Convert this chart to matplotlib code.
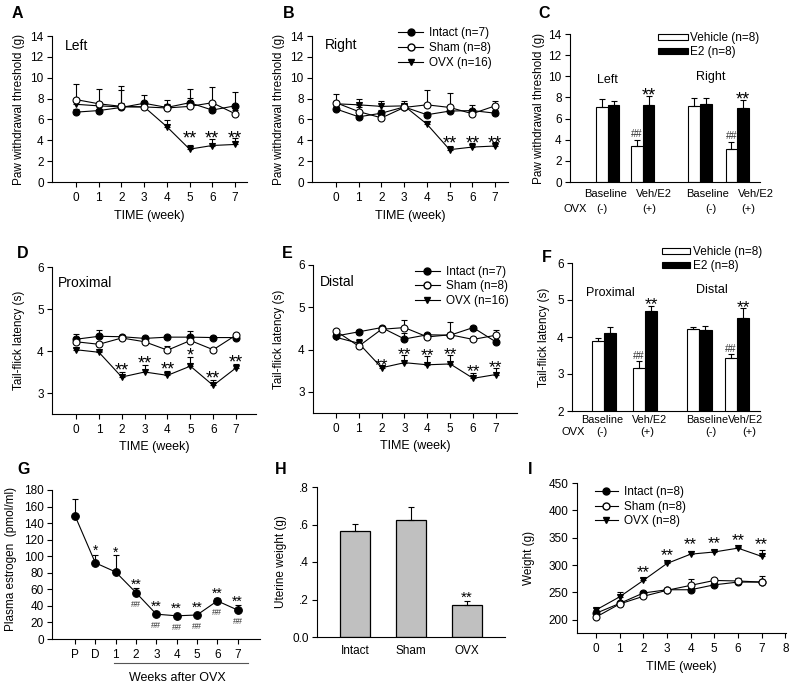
import numpy as np
import matplotlib
matplotlib.use('Agg')
import matplotlib.pyplot as plt
from matplotlib.lines import Line2D
from matplotlib.patches import Patch
from matplotlib.transforms import blended_transform_factory

plt.rcParams['font.family'] = ['Liberation Sans', 'DejaVu Sans']
plt.rcParams['font.size'] = 8.5
plt.rcParams['axes.linewidth'] = 0.8

# ---------------- data ----------------
weeks = [0, 1, 2, 3, 4, 5, 6, 7]
names_pain = ['Intact (n=7)', 'Sham (n=8)', 'OVX (n=16)']
names_weight = ['Intact (n=8)', 'Sham (n=8)', 'OVX (n=8)']
names_treat = ['Vehicle (n=8)', 'E2 (n=8)']

# A: paw withdrawal threshold (g), left
a_intact = [6.70, 6.85, 7.15, 7.55, 7.15, 7.60, 6.90, 7.30]
a_intact_err = [0.30, 0.30, 1.65, 0.80, 0.30, 1.30, 0.30, 1.35]
a_sham = [7.90, 7.50, 7.25, 7.20, 7.10, 7.25, 7.60, 6.55]
a_sham_err = [1.45, 1.45, 2.00, 0.50, 0.80, 0.85, 1.50, 0.40]
a_ovx = [7.45, 7.30, 7.20, 7.20, 5.30, 3.15, 3.50, 3.60]
a_ovx_err = [0.40, 0.30, 0.40, 0.40, 0.65, 0.40, 0.60, 0.65]
a_sig = ['', '', '', '', '', '**', '**', '**']

# B: paw withdrawal threshold (g), right
b_intact = [7.00, 6.25, 6.60, 7.20, 6.45, 6.80, 6.85, 6.60]
b_intact_err = [0.30, 0.30, 0.30, 0.30, 0.30, 0.30, 0.55, 0.30]
b_sham = [7.60, 6.75, 6.15, 7.15, 7.40, 7.15, 6.55, 7.30]
b_sham_err = [0.85, 0.40, 0.30, 0.30, 1.40, 1.35, 0.30, 0.45]
b_ovx = [7.50, 7.40, 7.25, 7.30, 5.55, 3.10, 3.35, 3.45]
b_ovx_err = [0.30, 0.60, 0.50, 0.50, 0.30, 0.35, 0.35, 0.40]
b_sig = ['', '', '', '', '', '**', '**', '**']

# C: paw withdrawal threshold, vehicle vs E2
c_groups = ['Baseline', 'Veh/E2', 'Baseline', 'Veh/E2']
c_ovx = ['(-)', '(+)', '(-)', '(+)']
c_sides = ['Left', 'Right']
c_vehicle = [7.10, 3.40, 7.20, 3.15]
c_vehicle_err = [0.75, 0.60, 0.75, 0.65]
c_e2 = [7.25, 7.25, 7.35, 7.00]
c_e2_err = [0.40, 0.85, 0.60, 0.72]
c_vehicle_sig = ['', '##', '', '##']
c_e2_sig = ['', '**', '', '**']

# D: tail-flick latency (s), proximal
d_intact = [4.28, 4.35, 4.34, 4.30, 4.33, 4.33, 4.32, 4.32]
d_intact_err = [0.13, 0.15, 0.03, 0.03, 0.03, 0.15, 0.03, 0.03]
d_sham = [4.22, 4.16, 4.31, 4.22, 4.02, 4.25, 4.03, 4.38]
d_sham_err = [0.05, 0.05, 0.03, 0.03, 0.10, 0.05, 0.03, 0.03]
d_ovx = [4.03, 3.97, 3.38, 3.50, 3.42, 3.64, 3.18, 3.60]
d_ovx_err = [0.03, 0.03, 0.12, 0.17, 0.10, 0.22, 0.12, 0.10]
d_sig = ['', '', '**', '**', '**', '*', '**', '**']

# E: tail-flick latency (s), distal
e_intact = [4.32, 4.42, 4.52, 4.25, 4.35, 4.34, 4.52, 4.18]
e_intact_err = [0.03, 0.04, 0.03, 0.15, 0.03, 0.03, 0.03, 0.03]
e_sham = [4.44, 4.08, 4.48, 4.52, 4.30, 4.35, 4.24, 4.34]
e_sham_err = [0.03, 0.03, 0.03, 0.17, 0.03, 0.30, 0.03, 0.13]
e_ovx = [4.29, 4.15, 3.57, 3.69, 3.64, 3.66, 3.32, 3.41]
e_ovx_err = [0.03, 0.10, 0.03, 0.17, 0.20, 0.20, 0.13, 0.15]
e_sig = ['', '', '**', '**', '**', '**', '**', '**']

# F: tail-flick latency, vehicle vs E2
f_groups = ['Baseline', 'Veh/E2', 'Baseline', 'Veh/E2']
f_ovx = ['(-)', '(+)', '(-)', '(+)']
f_sides = ['Proximal', 'Distal']
f_vehicle = [3.88, 3.17, 4.22, 3.43]
f_vehicle_err = [0.09, 0.18, 0.06, 0.10]
f_e2 = [4.12, 4.69, 4.20, 4.51]
f_e2_err = [0.16, 0.15, 0.10, 0.27]
f_vehicle_sig = ['', '##', '', '##']
f_e2_sig = ['', '**', '', '**']

# G: plasma estrogen (pmol/ml)
g_labels = ['P', 'D', '1', '2', '3', '4', '5', '6', '7']
g_vals = [149, 92, 81, 56, 30, 28, 29, 46, 35]
g_err = [20, 10, 21, 6, 2, 1.5, 2, 4, 6]
g_star = ['', '*', '*', '**', '**', '**', '**', '**', '**']
g_hash = ['', '', '', '##', '##', '##', '##', '##', '##']

# H: uterine weight (g)
h_cats = ['Intact', 'Sham', 'OVX']
h_vals = [0.563, 0.626, 0.172]
h_err = [0.040, 0.070, 0.018]
h_sig = ['', '', '**']

# I: body weight (g)
i_intact = [212, 230, 249, 255, 255, 264, 269, 269]
i_intact_err = [3, 3, 3, 3, 3, 3, 3, 3]
i_sham = [205, 229, 243, 254, 263, 272, 271, 269]
i_sham_err = [3, 3, 3, 3, 12, 5, 6, 11]
i_ovx = [218, 242, 272, 303, 320, 324, 331, 316]
i_ovx_err = [3, 8, 4, 3, 6, 4, 3, 11]
i_sig = ['', '', '**', '**', '**', '**', '**', '**']

# ---------------- helpers ----------------
W, H = 791, 686
fig = plt.figure(figsize=(W / 100, H / 100), dpi=100)


def make_axes(l, r, t, b):
    return fig.add_axes([l / W, 1 - b / H, (r - l) / W, (b - t) / H])


def style(ax):
    for s in ['top', 'right']:
        ax.spines[s].set_visible(False)
    for s in ['left', 'bottom']:
        ax.spines[s].set_linewidth(0.8)
    ax.tick_params(direction='out', length=3.5, width=0.8, labelsize=8.5, pad=2.5)


def ylab(ax, text, right_px, left_px, width_px, yfrac=0.5):
    ax.set_ylabel(text, fontsize=8.5)
    ax.yaxis.set_label_coords((right_px - left_px) / width_px, yfrac)


PX = 0.72  # points per pixel


def mark(ax, x, y, s, gap_px, fs=13, kind='star', color='k'):
    """place text so that its glyph centre sits gap_px above (x, y)"""
    if not s:
        return
    centre = 0.58 if kind == 'star' else 0.35
    off = gap_px * PX - centre * fs
    ax.annotate(s, (x, y), xytext=(0, off), textcoords='offset points',
                ha='center', va='baseline', fontsize=fs, color=color,
                annotation_clip=False)


def series(ax, x, y, e, marker, filled, ms=5):
    ax.errorbar(x, y, yerr=[np.zeros(len(e)), e], fmt='none', ecolor='k',
                elinewidth=0.8, capsize=2, capthick=0.8, zorder=2)
    ax.plot(x, y, color='k', lw=0.8, marker=marker, ms=ms,
            mfc='k' if filled else 'white', mec='k', mew=0.8, zorder=3)


def line_panel(ax, intact, ie, sham, se, ovx, oe):
    series(ax, weeks, ovx, oe, 'v', True)
    series(ax, weeks, intact, ie, 'o', True)
    series(ax, weeks, sham, se, 'o', False)


def line_handles():
    return [Line2D([], [], color='k', lw=0.8, marker='o', ms=5, mfc='k', mec='k'),
            Line2D([], [], color='k', lw=0.8, marker='o', ms=5, mfc='white', mec='k'),
            Line2D([], [], color='k', lw=0.8, marker='v', ms=5, mfc='k', mec='k')]


def bar_handles():
    return [Patch(facecolor='white', edgecolor='k', lw=0.8),
            Patch(facecolor='k', edgecolor='k', lw=0.8)]


def letter(x, y, s):
    fig.text(x / W, 1 - y / H, s, fontsize=11.5, fontweight='bold', ha='left', va='center')


# ---------------- A ----------------
axA = make_axes(52, 247, 36, 182)
style(axA)
line_panel(axA, a_intact, a_intact_err, a_sham, a_sham_err, a_ovx, a_ovx_err)
axA.set_xlim(-1.06, 7.53)
axA.set_ylim(0, 14)
axA.set_xticks(weeks)
axA.set_yticks(range(0, 15, 2))
axA.tick_params(axis='x', pad=4)
axA.set_xlabel('TIME (week)', fontsize=9, labelpad=4)
ylab(axA, 'Paw withdrawal threshold (g)', 25, 52, 195)
for x, s in zip(weeks, a_sig):
    mark(axA, x, 4.65, s, 0)
axA.text(0.067, 0.93, 'Left', transform=axA.transAxes, fontsize=10, va='center')
letter(12, 13, 'A')

# ---------------- B ----------------
axB = make_axes(312, 508, 36, 182)
style(axB)
line_panel(axB, b_intact, b_intact_err, b_sham, b_sham_err, b_ovx, b_ovx_err)
axB.set_xlim(-1.06, 7.57)
axB.set_ylim(0, 14)
axB.set_xticks(weeks)
axB.set_yticks(range(0, 15, 2))
axB.tick_params(axis='x', pad=4)
axB.set_xlabel('TIME (week)', fontsize=9, labelpad=4)
ylab(axB, 'Paw withdrawal threshold (g)', 285, 312, 196)
for x, s in zip(weeks, b_sig):
    mark(axB, x, 4.2, s, 0)
axB.text(0.066, 0.935, 'Right', transform=axB.transAxes, fontsize=10, va='center')
axB.legend(line_handles(), names_pain, loc='upper left', bbox_to_anchor=(0.44, 1.062),
           frameon=False, fontsize=8.5, handlelength=2.1, handletextpad=0.5,
           labelspacing=0.27, borderpad=0, borderaxespad=0)
letter(283, 13, 'B')


# ---------------- bar panels C / F ----------------
def pair_panel(ax, pos, width, veh, veh_e, e2, e2_e):
    pos = np.asarray(pos, float)
    ax.bar(pos - width / 2, veh, width, color='white', edgecolor='k', lw=0.8, zorder=2)
    ax.bar(pos + width / 2, e2, width, color='k', edgecolor='k', lw=0.8, zorder=2)
    ax.errorbar(pos - width / 2, veh, yerr=[np.zeros(len(veh)), veh_e], fmt='none',
                ecolor='k', elinewidth=0.8, capsize=2, capthick=0.8, zorder=3)
    ax.errorbar(pos + width / 2, e2, yerr=[np.zeros(len(e2)), e2_e], fmt='none',
                ecolor='k', elinewidth=0.8, capsize=2, capthick=0.8, zorder=3)
    ax.set_xticks([])


axC = make_axes(570, 760, 34, 182)
style(axC)
c_pos = [0, 1, 2.63, 3.7]
c_w = 0.334
pair_panel(axC, c_pos, c_w, c_vehicle, c_vehicle_err, c_e2, c_e2_err)
axC.set_xlim(-1.08, 4.35)
axC.set_ylim(0, 14)
axC.set_yticks(range(0, 15, 2))
ylab(axC, 'Paw withdrawal threshold (g)', 545, 570, 190)
for p, v, e, s in zip(c_pos, c_vehicle, c_vehicle_err, c_vehicle_sig):
    mark(axC, p - c_w / 2, v + e, s, 6, fs=7.5, kind='hash', color='#333333')
for p, v, e, s in zip(c_pos, c_e2, c_e2_err, c_e2_sig):
    mark(axC, p + c_w / 2, v + e, s, 6, fs=13)
axC.text(0, 9.65, c_sides[0], ha='center', va='center', fontsize=9)
axC.text(2.95, 9.95, c_sides[1], ha='center', va='center', fontsize=9)
for xf, s in zip([0.189, 0.442, 0.724, 0.979], c_groups):
    axC.text(xf, -0.079, s, transform=axC.transAxes, ha='center', va='center', fontsize=8, clip_on=False)
for xf, s in zip([0.168, 0.416, 0.742, 0.937], c_ovx):
    axC.text(xf, -0.18, s, transform=axC.transAxes, ha='center', va='center', fontsize=8, clip_on=False)
axC.text(0.026, -0.18, 'OVX', transform=axC.transAxes, ha='center', va='center', fontsize=8)
axC.legend(bar_handles(), names_treat, loc='upper left', bbox_to_anchor=(0.463, 1.014),
           frameon=False, fontsize=8.5, handlelength=2.55, handleheight=0.42,
           handletextpad=0.2, labelspacing=0.2, borderpad=0, borderaxespad=0)
letter(538, 13, 'C')

# ---------------- D ----------------
axD = make_axes(52, 256, 267, 414)
style(axD)
line_panel(axD, d_intact, d_intact_err, d_sham, d_sham_err, d_ovx, d_ovx_err)
axD.set_xlim(-1.05, 7.87)
axD.set_ylim(2.5, 6)
axD.set_xticks(weeks)
axD.set_yticks([3, 4, 5, 6])
axD.tick_params(axis='x', pad=4)
axD.set_xlabel('TIME (week)', fontsize=9, labelpad=3)
ylab(axD, 'Tail-flick latency (s)', 25, 52, 204)
for x, v, e, s in zip(weeks, d_ovx, d_ovx_err, d_sig):
    mark(axD, x, v + e, s, 7)
axD.text(0.031, 0.889, 'Proximal', transform=axD.transAxes, fontsize=10, va='center')
letter(17, 253, 'D')

# ---------------- E ----------------
axE = make_axes(313, 517, 265, 413)
style(axE)
line_panel(axE, e_intact, e_intact_err, e_sham, e_sham_err, e_ovx, e_ovx_err)
axE.set_xlim(-1.0, 7.92)
axE.set_ylim(2.5, 6)
axE.set_xticks(weeks)
axE.set_yticks([3, 4, 5, 6])
axE.tick_params(axis='x', pad=4)
axE.set_xlabel('TIME (week)', fontsize=9, labelpad=3)
ylab(axE, 'Tail-flick latency (s)', 285, 313, 204)
for x, v, e, s in zip(weeks, e_ovx, e_ovx_err, e_sig):
    mark(axE, x, v + e, s, 6.5, fs=12.5)
axE.text(0.034, 0.887, 'Distal', transform=axE.transAxes, fontsize=10, va='center')
axE.legend(line_handles(), names_pain, loc='upper left', bbox_to_anchor=(0.5, 0.995),
           frameon=False, fontsize=8.5, handlelength=2.1, handletextpad=0.5,
           labelspacing=0.23, borderpad=0, borderaxespad=0)
letter(282, 253, 'E')

# ---------------- F ----------------
axF = make_axes(572, 760, 263, 411)
style(axF)
f_pos = [0, 1, 2.32, 3.24]
f_w = 0.30
pair_panel(axF, f_pos, f_w, f_vehicle, f_vehicle_err, f_e2, f_e2_err)
axF.set_xlim(-0.78, 3.8)
axF.set_ylim(2, 6)
axF.set_yticks([2, 3, 4, 5, 6])
ylab(axF, 'Tail-flick latency (s)', 550, 572, 188)
for p, v, e, s in zip(f_pos, f_vehicle, f_vehicle_err, f_vehicle_sig):
    mark(axF, p - f_w / 2, v + e, s, 6, fs=7.5, kind='hash', color='#333333')
for p, v, e, s in zip(f_pos, f_e2, f_e2_err, f_e2_sig):
    mark(axF, p + f_w / 2, v + e, s, 6.5, fs=12.5)
axF.text(0.15, 5.2, f_sides[0], ha='center', va='center', fontsize=9)
axF.text(2.63, 5.28, f_sides[1], ha='center', va='center', fontsize=9)
for xf, s in zip([0.163, 0.41, 0.718, 0.922], f_groups):
    axF.text(xf, -0.061, s, transform=axF.transAxes, ha='center', va='center', fontsize=7.8, clip_on=False)
for xf, s in zip([0.16, 0.402, 0.739, 0.941], f_ovx):
    axF.text(xf, -0.142, s, transform=axF.transAxes, ha='center', va='center', fontsize=8, clip_on=False)
axF.text(0.005, -0.142, 'OVX', transform=axF.transAxes, ha='center', va='center', fontsize=8)
axF.legend(bar_handles(), names_treat, loc='upper left', bbox_to_anchor=(0.479, 1.116),
           frameon=False, fontsize=8.5, handlelength=2.4, handleheight=0.42,
           handletextpad=0.2, labelspacing=0.2, borderpad=0, borderaxespad=0)
letter(542, 257, 'F')

# ---------------- G ----------------
axG = make_axes(52, 260, 490, 639)
style(axG)
gx = np.arange(len(g_labels))
series(axG, gx, g_vals, g_err, 'o', True, ms=5.5)
axG.set_xlim(-1.13, 9.1)
axG.set_ylim(0, 180)
axG.set_yticks(range(0, 181, 20))
axG.set_xticks(gx)
axG.set_xticklabels(g_labels)
axG.tick_params(axis='x', pad=4)
ylab(axG, 'Plasma estrogen  (pmol/ml)', 17, 52, 208, 0.54)
g_star_gap = [0, 16, 23, 12, 11, 11, 11, 11, 12]
for x, v, s, gp in zip(gx, g_vals, g_star, g_star_gap):
    mark(axG, x, v, s, gp, fs=10)
for x, v, s in zip(gx, g_vals, g_hash):
    mark(axG, x, v, s, -11, fs=6.5, kind='hash', color='#333333')
trG = blended_transform_factory(axG.transData, axG.transAxes)
axG.plot([1.9, 8.5], [-0.161, -0.161], color='#555555', lw=0.8, transform=trG, clip_on=False)
axG.text(5.05, -0.262, 'Weeks after OVX', transform=trG, ha='center', va='center', fontsize=9)
letter(17, 469, 'G')

# ---------------- H ----------------
axH = make_axes(317, 505, 487, 637)
style(axH)
hx = np.arange(len(h_cats))
axH.bar(hx, h_vals, 0.55, color='#c0c0c0', edgecolor='k', lw=0.9, zorder=2)
axH.errorbar(hx, h_vals, yerr=[np.zeros(len(h_err)), h_err], fmt='none', ecolor='k',
             elinewidth=0.8, capsize=2, capthick=0.8, zorder=3)
axH.set_xlim(-0.68, 2.68)
axH.set_ylim(0, 0.8)
axH.set_yticks([0, 0.2, 0.4, 0.6, 0.8])
axH.set_yticklabels(['0.0', '.2', '.4', '.6', '.8'])
axH.set_xticks(hx)
axH.set_xticklabels(h_cats)
axH.tick_params(axis='x', length=0, pad=6)
ylab(axH, 'Uterine weight (g)', 287, 317, 188)
for x, v, e, s in zip(hx, h_vals, h_err, h_sig):
    mark(axH, x, v + e, s, 8, fs=11)
letter(275, 469, 'H')

# ---------------- I ----------------
axI = make_axes(577, 786, 483, 633)
style(axI)
series(axI, weeks, i_ovx, i_ovx_err, 'v', True)
series(axI, weeks, i_intact, i_intact_err, 'o', True)
series(axI, weeks, i_sham, i_sham_err, 'o', False)
axI.set_xlim(-0.8, 8.03)
axI.set_ylim(176, 450)
axI.set_xticks(range(0, 9))
axI.set_yticks(range(200, 451, 50))
axI.tick_params(axis='x', pad=4)
axI.set_xlabel('TIME (week)', fontsize=9, labelpad=4)
ylab(axI, 'Weight (g)', 535, 577, 209)
for x, v, e, s in zip(weeks, i_ovx, i_ovx_err, i_sig):
    mark(axI, x, v + e, s, 11, fs=12)
axI.legend(line_handles(), names_weight, loc='upper left', bbox_to_anchor=(0.086, 0.977),
           frameon=False, fontsize=8.5, handlelength=1.95, handletextpad=0.5,
           labelspacing=0.2, borderpad=0, borderaxespad=0)
letter(528, 469, 'I')

fig.savefig('out.png', dpi=100)
